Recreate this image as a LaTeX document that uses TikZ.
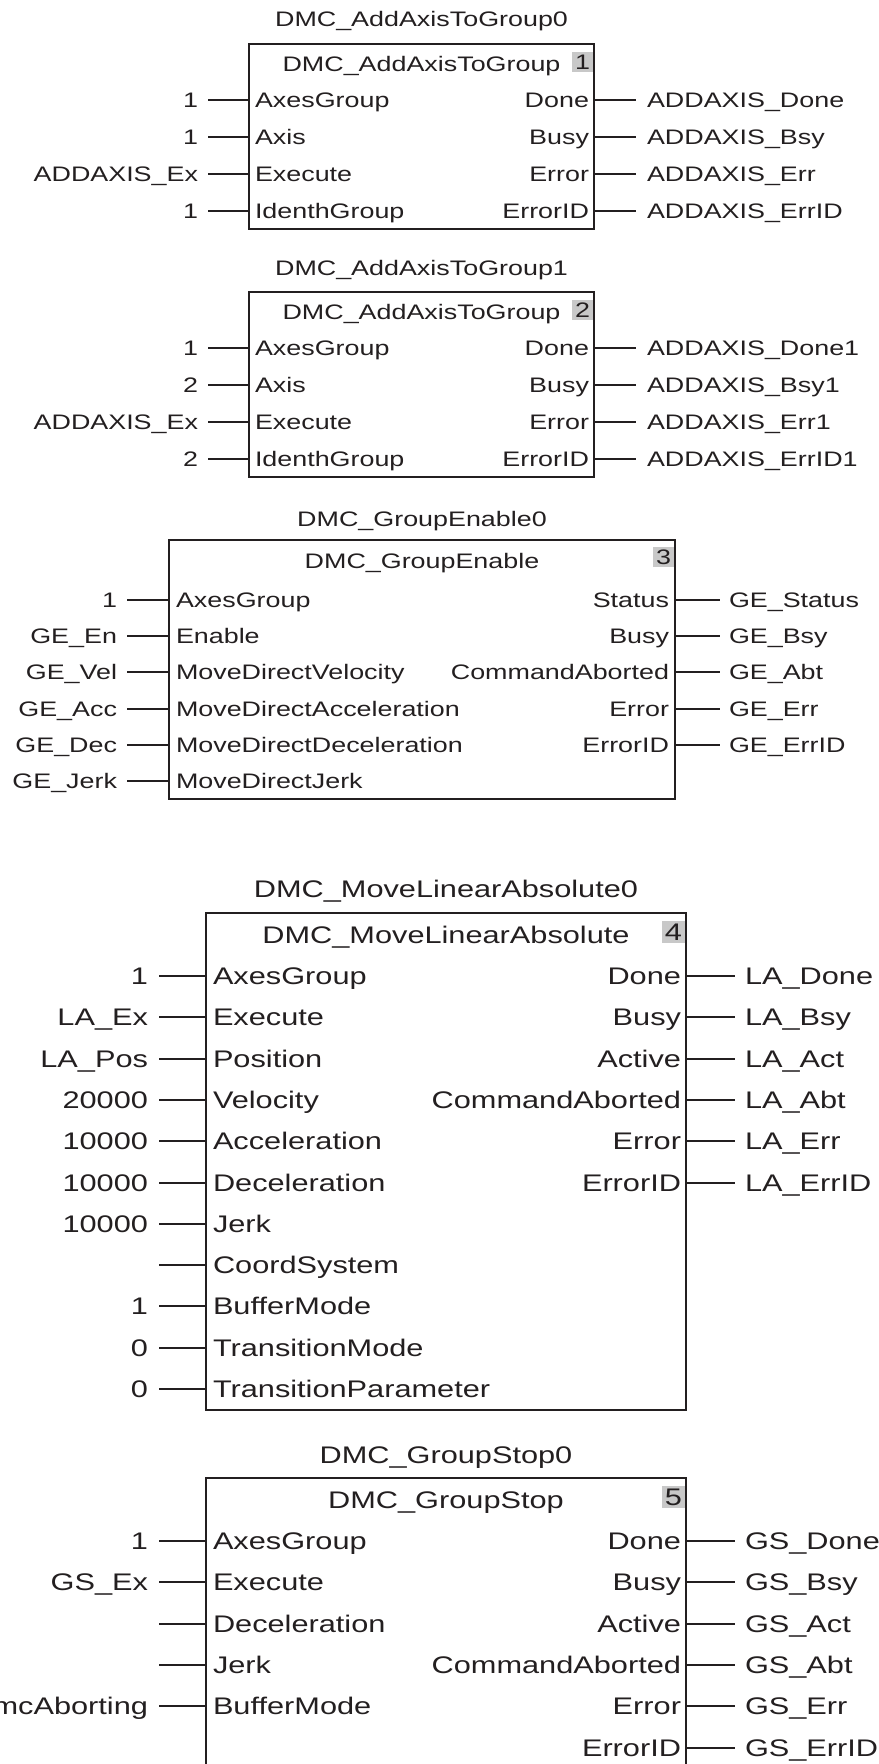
\documentclass[tikz,border=0pt]{standalone}
\usepackage{fontspec}
\setmainfont{Liberation Sans}[FakeStretch=1.28]
\definecolor{ink}{HTML}{231F20}
\definecolor{numgray}{HTML}{C8C8C8}
\begin{document}
\begin{tikzpicture}[x=1pt,y=-1pt,
  txt/.style={inner sep=0pt, outer sep=0pt, text=ink},
  fa/.style={font=\fontsize{21}{25}\selectfont},
  fb/.style={font=\fontsize{24}{28}\selectfont},
  fbbox/.style={draw=ink, line width=2pt, inner sep=0pt, outer sep=0pt, anchor=north west},
  pin/.style={draw=ink, line width=2pt},
  numbox/.style={fill=numgray, draw=none, inner sep=0pt, outer sep=0pt, anchor=north east}]
\useasboundingbox (0,0) rectangle (878,1764);
\clip (0,0) rectangle (878,1764);

% ---------------- Block 1 ----------------
\node[txt,fa,anchor=base] (t1) at (421.5,27) {DMC\_AddAxisToGroup0};
\node[fbbox, minimum width=345pt, minimum height=185pt] (b1) at (249,44) {};
\node[txt,fa,anchor=base] (h1) at (421.5,71) {DMC\_AddAxisToGroup};
\node[numbox, minimum width=21pt, minimum height=20pt] (n1) at (593,52) {};
\node[txt,fa] (d1) at (n1) {1};
\foreach \pn/\lab [count=\i] in {AxesGroup/1, Axis/1, Execute/ADDAXIS\_Ex, IdenthGroup/1} {
  \pgfmathsetmacro\yy{round(99.5+37.17*(\i-1))}
  \coordinate (b1i\i) at (249,\yy);
  \coordinate (b1s\i) at (208,\yy);
  \draw[pin] (b1s\i) -- (b1i\i);
  \node[txt,fa,anchor=base east] (b1l\i) at (198,\yy+7.5) {\lab};
  \node[txt,fa,anchor=base west] (b1p\i) at (255,\yy+7.5) {\pn};
}
\foreach \pn/\lab [count=\i] in {Done/ADDAXIS\_Done, Busy/ADDAXIS\_Bsy, Error/ADDAXIS\_Err, ErrorID/ADDAXIS\_ErrID} {
  \pgfmathsetmacro\yy{round(99.5+37.17*(\i-1))}
  \coordinate (b1o\i) at (594,\yy);
  \coordinate (b1e\i) at (636,\yy);
  \draw[pin] (b1o\i) -- (b1e\i);
  \node[txt,fa,anchor=base west] (b1r\i) at (647,\yy+7.5) {\lab};
  \node[txt,fa,anchor=base east] (b1q\i) at (589,\yy+7.5) {\pn};
}

% ---------------- Block 2 ----------------
\node[txt,fa,anchor=base] (t2) at (421.5,275) {DMC\_AddAxisToGroup1};
\node[fbbox, minimum width=345pt, minimum height=185pt] (b2) at (249,292) {};
\node[txt,fa,anchor=base] (h2) at (421.5,319) {DMC\_AddAxisToGroup};
\node[numbox, minimum width=21pt, minimum height=20pt] (n2) at (593,300) {};
\node[txt,fa] (d2) at (n2) {2};
\foreach \pn/\lab [count=\i] in {AxesGroup/1, Axis/2, Execute/ADDAXIS\_Ex, IdenthGroup/2} {
  \pgfmathsetmacro\yy{round(347.5+37.17*(\i-1))}
  \coordinate (b2i\i) at (249,\yy);
  \coordinate (b2s\i) at (208,\yy);
  \draw[pin] (b2s\i) -- (b2i\i);
  \node[txt,fa,anchor=base east] (b2l\i) at (198,\yy+7.5) {\lab};
  \node[txt,fa,anchor=base west] (b2p\i) at (255,\yy+7.5) {\pn};
}
\foreach \pn/\lab [count=\i] in {Done/ADDAXIS\_Done1, Busy/ADDAXIS\_Bsy1, Error/ADDAXIS\_Err1, ErrorID/ADDAXIS\_ErrID1} {
  \pgfmathsetmacro\yy{round(347.5+37.17*(\i-1))}
  \coordinate (b2o\i) at (594,\yy);
  \coordinate (b2e\i) at (636,\yy);
  \draw[pin] (b2o\i) -- (b2e\i);
  \node[txt,fa,anchor=base west] (b2r\i) at (647,\yy+7.5) {\lab};
  \node[txt,fa,anchor=base east] (b2q\i) at (589,\yy+7.5) {\pn};
}

% ---------------- Block 3 ----------------
\node[txt,fa,anchor=base] (t3) at (422,526) {DMC\_GroupEnable0};
\node[fbbox, minimum width=506pt, minimum height=259pt] (b3) at (169,540) {};
\node[txt,fa,anchor=base] (h3) at (422,568) {DMC\_GroupEnable};
\node[numbox, minimum width=21pt, minimum height=20pt] (n3) at (674,547) {};
\node[txt,fa] (d3) at (n3) {3};
\foreach \pn/\lab [count=\i] in {AxesGroup/1, Enable/GE\_En, MoveDirectVelocity/GE\_Vel, MoveDirectAcceleration/GE\_Acc, MoveDirectDeceleration/GE\_Dec, MoveDirectJerk/GE\_Jerk} {
  \pgfmathsetmacro\yy{round(600+36.2*(\i-1))}
  \coordinate (b3i\i) at (169,\yy);
  \coordinate (b3s\i) at (127,\yy);
  \draw[pin] (b3s\i) -- (b3i\i);
  \node[txt,fa,anchor=base east] (b3l\i) at (117,\yy+7.5) {\lab};
  \node[txt,fa,anchor=base west] (b3p\i) at (176,\yy+7.5) {\pn};
}
\foreach \pn/\lab [count=\i] in {Status/GE\_Status, Busy/GE\_Bsy, CommandAborted/GE\_Abt, Error/GE\_Err, ErrorID/GE\_ErrID} {
  \pgfmathsetmacro\yy{round(600+36.2*(\i-1))}
  \coordinate (b3o\i) at (675,\yy);
  \coordinate (b3e\i) at (720,\yy);
  \draw[pin] (b3o\i) -- (b3e\i);
  \node[txt,fa,anchor=base west] (b3r\i) at (729,\yy+7.5) {\lab};
  \node[txt,fa,anchor=base east] (b3q\i) at (669,\yy+7.5) {\pn};
}

% ---------------- Block 4 ----------------
\node[txt,fb,anchor=base] (t4) at (446,897) {DMC\_MoveLinearAbsolute0};
\node[fbbox, minimum width=480pt, minimum height=497pt] (b4) at (206,913) {};
\node[txt,fb,anchor=base] (h4) at (446,943) {DMC\_MoveLinearAbsolute};
\node[numbox, minimum width=23pt, minimum height=22pt] (n4) at (685,921) {};
\node[txt,fb] (d4) at (n4) {4};
\foreach \pn/\lab [count=\i] in {AxesGroup/1, Execute/LA\_Ex, Position/LA\_Pos, Velocity/20000, Acceleration/10000, Deceleration/10000, Jerk/10000, CoordSystem/, BufferMode/1, TransitionMode/0, TransitionParameter/0} {
  \pgfmathsetmacro\yy{round(976+41.3*(\i-1))}
  \coordinate (b4i\i) at (206,\yy);
  \coordinate (b4s\i) at (159,\yy);
  \draw[pin] (b4s\i) -- (b4i\i);
  \node[txt,fb,anchor=base east] (b4l\i) at (148,\yy+8.6) {\lab};
  \node[txt,fb,anchor=base west] (b4p\i) at (213,\yy+8.6) {\pn};
}
\foreach \pn/\lab [count=\i] in {Done/LA\_Done, Busy/LA\_Bsy, Active/LA\_Act, CommandAborted/LA\_Abt, Error/LA\_Err, ErrorID/LA\_ErrID} {
  \pgfmathsetmacro\yy{round(976+41.3*(\i-1))}
  \coordinate (b4o\i) at (686,\yy);
  \coordinate (b4e\i) at (735,\yy);
  \draw[pin] (b4o\i) -- (b4e\i);
  \node[txt,fb,anchor=base west] (b4r\i) at (745,\yy+8.6) {\lab};
  \node[txt,fb,anchor=base east] (b4q\i) at (681,\yy+8.6) {\pn};
}

% ---------------- Block 5 ----------------
\node[txt,fb,anchor=base] (t5) at (446,1463) {DMC\_GroupStop0};
\node[fbbox, minimum width=480pt, minimum height=320pt] (b5) at (206,1478) {};
\node[txt,fb,anchor=base] (h5) at (446,1508) {DMC\_GroupStop};
\node[numbox, minimum width=23pt, minimum height=22pt] (n5) at (685,1486) {};
\node[txt,fb] (d5) at (n5) {5};
\foreach \pn/\lab [count=\i] in {AxesGroup/1, Execute/GS\_Ex, Deceleration/, Jerk/, BufferMode/mcAborting} {
  \pgfmathsetmacro\yy{round(1541+41.3*(\i-1))}
  \coordinate (b5i\i) at (206,\yy);
  \coordinate (b5s\i) at (159,\yy);
  \draw[pin] (b5s\i) -- (b5i\i);
  \node[txt,fb,anchor=base east] (b5l\i) at (148,\yy+8.6) {\lab};
  \node[txt,fb,anchor=base west] (b5p\i) at (213,\yy+8.6) {\pn};
}
\foreach \pn/\lab [count=\i] in {Done/GS\_Done, Busy/GS\_Bsy, Active/GS\_Act, CommandAborted/GS\_Abt, Error/GS\_Err, ErrorID/GS\_ErrID} {
  \pgfmathsetmacro\yy{round(1541+41.3*(\i-1))}
  \coordinate (b5o\i) at (686,\yy);
  \coordinate (b5e\i) at (735,\yy);
  \draw[pin] (b5o\i) -- (b5e\i);
  \node[txt,fb,anchor=base west] (b5r\i) at (745,\yy+8.6) {\lab};
  \node[txt,fb,anchor=base east] (b5q\i) at (681,\yy+8.6) {\pn};
}
\end{tikzpicture}
\end{document}
